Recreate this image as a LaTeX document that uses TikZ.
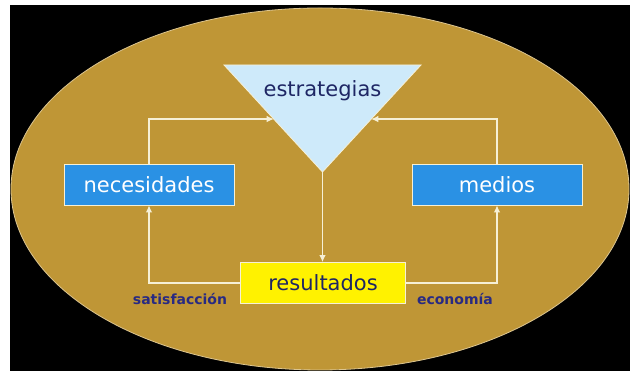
\documentclass[tikz,border=0pt]{standalone}
\usepackage{fontspec}
\setmainfont{DejaVu Sans}
\usepackage{xcolor}
\usepackage{tikz}
\usetikzlibrary{positioning,arrows.meta,calc}

\definecolor{gold}{RGB}{191,150,54}
\definecolor{boxblue}{RGB}{42,145,228}
\definecolor{triblue}{RGB}{206,234,250}
\definecolor{navy}{RGB}{30,38,100}
\definecolor{lblnavy}{RGB}{40,42,130}
\definecolor{linecol}{RGB}{246,240,214}

\begin{document}
\begin{tikzpicture}[x=1pt, y=1pt,
  font=\fontsize{21}{25}\selectfont,
  box/.style={draw=linecol, line width=0.8pt, minimum width=170pt,
              minimum height=41pt, inner sep=0pt},
  lbl/.style={font=\fontsize{14}{16}\selectfont\bfseries, text=lblnavy},
  arr/.style={-{Latex[length=7pt,width=6.5pt]}, draw=linecol, line width=1.1pt}]
\useasboundingbox (0,0) rectangle (630,371);
\fill[black] (10,0) rectangle (630,366);
\filldraw[fill=gold, draw=gold!55!white, line width=0.8pt] (320,182) ellipse [x radius=309, y radius=181];
\coordinate (tA) at (224,306); \coordinate (tB) at (421,306); \coordinate (apex) at (322.5,199);
\filldraw[fill=triblue, draw=linecol, line width=0.8pt] (tA) -- (tB) -- (apex) -- cycle;
\coordinate (inL) at ($(tA)!0.505!(apex)$); \coordinate (inR) at ($(tB)!0.505!(apex)$);
\node[text=navy] (estr) at (322.5,280) {estrategias};
\node[box, fill=boxblue, text=white] (nec) at (149,186.5) {necesidades};
\node[box, fill=boxblue, text=white] (med) at (497,186.5) {medios};
\node[box, fill=yellow, text=navy, minimum width=165pt] (res) at (323,88) {resultados};
\draw[arr] (apex) -- (apex |- res.north);
\draw[arr] (res.west) -| (nec.south); \draw[arr] (res.east) -| (med.south);
\draw[arr] (nec.north) |- (inL); \draw[arr] (med.north) |- (inR);
\node[lbl] (sat) at (180,72) {satisfacción};
\node[lbl] (eco) at (455,72) {economía};
\end{tikzpicture}
\end{document}
